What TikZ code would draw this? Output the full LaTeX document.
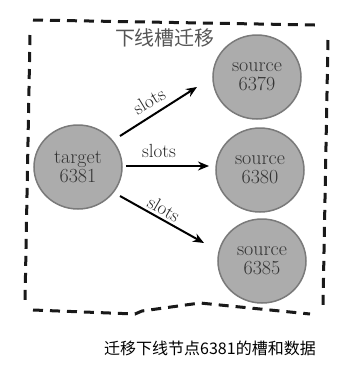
\documentclass[tikz,border=0pt]{standalone}
\usepackage{fontspec}
\newfontfamily\cjk{Noto Sans CJK SC}
\usetikzlibrary{arrows.meta}
\definecolor{nodefill}{HTML}{ACACAC}
\definecolor{nodeline}{HTML}{7A7A7A}
\definecolor{titlegray}{HTML}{555555}
\tikzset{
  server/.style={ellipse, minimum width=88pt, minimum height=84pt, fill=nodefill, draw=nodeline, line width=1.5pt, inner sep=0pt, align=center, font=\fontsize{20}{19}\selectfont, text=black!80},
  border/.style={line width=3pt, dash pattern=on 10pt off 7pt, black!90},
  flow/.style={line width=2pt, -{Stealth[length=11pt,width=9pt]}},
  lbl/.style={font=\fontsize{19}{20}\selectfont, text=black!85, inner sep=1pt}
}
\usetikzlibrary{shapes.geometric}
\begin{document}
\begin{tikzpicture}[x=1pt,y=-1pt]
\useasboundingbox (0,0) rectangle (357,368);
% dashed frame
\draw[border] (33,20) -- (315,25);
\draw[border] (328,40) -- (323,305);
\draw[border] (30,35) -- (25,302);
\draw[border] (33,310) -- (135,314) -- (142,311) -- (200,303) -- (310,314);
% title
\node[font=\cjk\fontsize{20}{20}\selectfont, text=titlegray] (title) at (165,38) {下线槽迁移};
% nodes
\node[server] (t) at (78,167) {target\\6381};
\node[server] (s1) at (257,77) {source\\6379};
\node[server] (s2) at (260,170) {source\\6380};
\node[server] (s3) at (262,261) {source\\6385};
% arrows
\coordinate (a1s) at (120,136); \coordinate (a1e) at (197,87);
\coordinate (a2s) at (126,166); \coordinate (a2e) at (209,166);
\coordinate (a3s) at (120,196); \coordinate (a3e) at (204,243);
\draw[flow] (a1s) -- (a1e);
\draw[flow] (a2s) -- (a2e);
\draw[flow] (a3s) -- (a3e);
\node[lbl, rotate=31] (l1) at (149,101) {slots};
\node[lbl] (l2) at (159,151) {slots};
\node[lbl, rotate=-30] (l3) at (164,209) {slots};
% caption
\node[font=\cjk\fontsize{16}{16}\selectfont] (cap) at (210,348) {迁移下线节点6381的槽和数据};
\end{tikzpicture}
\end{document}
